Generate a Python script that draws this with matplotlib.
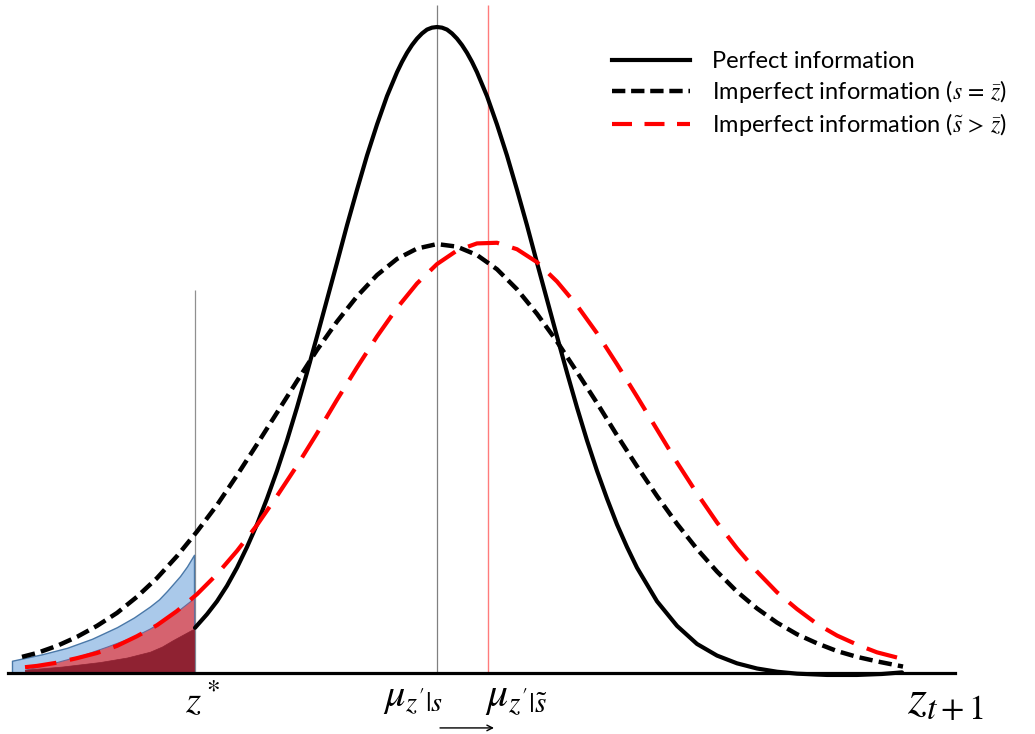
import matplotlib
matplotlib.use("Agg")
import matplotlib.pyplot as plt
from matplotlib.lines import Line2D

plt.rcParams['font.family'] = ['Lato', 'DejaVu Sans']
plt.rcParams['mathtext.fontset'] = 'stix'

# ---------------- data (x relative to mu_{z'|s}, y relative to perfect-info peak)
perfect_x = [-2.42, -2.3, -2.2, -2.1, -2.0, -1.9, -1.8, -1.7, -1.6, -1.5, -1.4, -1.3, -1.2, -1.1,
             -1.0, -0.9, -0.8, -0.7, -0.6, -0.5, -0.4, -0.35, -0.3, -0.25, -0.2, -0.15, -0.1, -0.05, 0.0,
             0.05, 0.1, 0.15, 0.2, 0.25, 0.3, 0.35, 0.4, 0.5, 0.6, 0.7, 0.8, 0.9, 1.0, 1.1, 1.2, 1.3, 1.4, 1.5,
             1.6, 1.7, 1.8, 1.9, 2.0, 2.2, 2.4, 2.6, 2.8, 3.0, 3.2, 3.4, 3.6, 3.9, 4.2, 4.45, 4.65]
perfect_y = [0.070, 0.091, 0.111, 0.135, 0.163, 0.195, 0.230, 0.270, 0.313, 0.360, 0.411, 0.465, 0.521, 0.578,
             0.635, 0.693, 0.748, 0.801, 0.849, 0.893, 0.930, 0.946, 0.960, 0.972, 0.982, 0.990, 0.996, 0.999, 1.000,
             0.999, 0.996, 0.990, 0.982, 0.972, 0.960, 0.946, 0.930, 0.893, 0.849, 0.801, 0.748, 0.693, 0.635, 0.578, 0.521, 0.465, 0.411, 0.360,
             0.313, 0.270, 0.230, 0.195, 0.163, 0.111, 0.073, 0.045, 0.027, 0.015, 0.007, 0.002, -0.001, -0.003, -0.003, -0.0015, 0.001]

imperfect_x = [-4.15, -4.0, -3.8, -3.6, -3.4, -3.2, -3.0, -2.8, -2.6, -2.4, -2.2, -2.0, -1.8, -1.6, -1.4,
               -1.2, -1.0, -0.8, -0.6, -0.4, -0.2, 0.0, 0.2, 0.4, 0.6, 0.8, 1.0, 1.2, 1.4, 1.6, 1.8,
               2.0, 2.2, 2.4, 2.6, 2.8, 3.0, 3.2, 3.4, 3.6, 3.8, 4.0, 4.2, 4.4, 4.66]
imperfect_y = [0.025, 0.031, 0.042, 0.056, 0.073, 0.093, 0.118, 0.147, 0.181, 0.219, 0.260, 0.306, 0.354, 0.403, 0.452,
               0.500, 0.544, 0.583, 0.616, 0.641, 0.657, 0.664, 0.660, 0.647, 0.625, 0.594, 0.556, 0.513, 0.466, 0.418, 0.368,
               0.320, 0.274, 0.231, 0.192, 0.157, 0.126, 0.100, 0.078, 0.060, 0.046, 0.034, 0.025, 0.018, 0.010]

shifted_x = [-4.12, -4.0, -3.8, -3.6, -3.4, -3.2, -3.0, -2.8, -2.6, -2.4, -2.2, -2.0, -1.8, -1.6, -1.4,
             -1.2, -1.0, -0.8, -0.6, -0.4, -0.2, 0.0, 0.2, 0.4, 0.6, 0.8, 1.0, 1.2, 1.4, 1.6, 1.8,
             2.0, 2.2, 2.4, 2.6, 2.8, 3.0, 3.2, 3.4, 3.6, 3.8, 4.0, 4.2, 4.4, 4.7]
shifted_y = [0.009, 0.011, 0.016, 0.023, 0.031, 0.042, 0.057, 0.074, 0.096, 0.122, 0.153, 0.189, 0.229, 0.274, 0.321,
             0.371, 0.423, 0.473, 0.521, 0.565, 0.603, 0.633, 0.654, 0.665, 0.666, 0.656, 0.636, 0.606, 0.569, 0.526, 0.478,
             0.428, 0.377, 0.326, 0.278, 0.233, 0.193, 0.157, 0.125, 0.099, 0.076, 0.058, 0.044, 0.032, 0.020]

blue_tail_x = [-4.25, -4.04, -3.95, -3.70, -3.45, -3.20, -3.03, -2.87, -2.78, -2.70, -2.57, -2.50, -2.43]
blue_tail_y = [0.019, 0.026, 0.029, 0.039, 0.053, 0.071, 0.086, 0.103, 0.114, 0.127, 0.150, 0.165, 0.183]
red_tail_x = [-4.12, -3.85, -3.54, -3.30, -3.04, -2.87, -2.70, -2.57, -2.43]
red_tail_y = [0.005, 0.015, 0.028, 0.041, 0.056, 0.069, 0.085, 0.099, 0.116]
dark_tail_x = [-4.12, -3.75, -3.37, -3.10, -2.87, -2.75, -2.64, -2.45, -2.43]
dark_tail_y = [0.005, 0.010, 0.017, 0.024, 0.033, 0.041, 0.051, 0.067, 0.068]

z_star = -2.42
mu_s = 0.0
mu_s_tilde = 0.51

legend_labels = ["Perfect information",
                 r"Imperfect information ($s\,=\,\bar{z}$)",
                 r"Imperfect information ($\tilde{s}\,>\,\bar{z}$)"]

# ---------------- figure
W, H = 1035, 734
fig = plt.figure(figsize=(W / 100, H / 100), dpi=100)
ax = fig.add_axes([8 / W, 0, 947 / W, 1])
ax.set_xlim(-4.29, 5.18)
ax.set_ylim(-0.0944, 1.0418)
for s in ['top', 'left', 'right']:
    ax.spines[s].set_visible(False)
ax.spines['bottom'].set_position(('data', 0))
ax.spines['bottom'].set_linewidth(2.3)
ax.spines['bottom'].set_zorder(3)
ax.set_xticks([])
ax.set_yticks([])

# shaded tails
ax.fill_between(blue_tail_x, blue_tail_y, 0, facecolor='#aac9ea', edgecolor='#4a78a8', linewidth=1.0, zorder=2)
ax.fill_between(red_tail_x, red_tail_y, 0, facecolor='#d5636f', edgecolor='#6a6a9a', linewidth=0.8, zorder=2.1)
ax.fill_between(dark_tail_x, dark_tail_y, 0, facecolor='#8f2232', edgecolor='#8f2232', linewidth=0.5, zorder=2.2)

# vertical reference lines
ax.vlines(mu_s, 0, 1.034, color='#808080', linewidth=0.9, zorder=1)
ax.vlines(mu_s_tilde, 0, 1.034, color='#ff7b7b', linewidth=1.0, zorder=1)
ax.vlines(z_star, 0, 0.593, color='#909090', linewidth=0.9, zorder=1)

# curves
ax.plot(perfect_x, perfect_y, color='black', linewidth=3.0, solid_capstyle='round',
        solid_joinstyle='round', zorder=4)
ax.plot(imperfect_x, imperfect_y, color='black', linewidth=3.2, dashes=(3.0, 1.4), zorder=4)
ax.plot(shifted_x, shifted_y, color='#ff0000', linewidth=3.0, dashes=(7.6, 3.3), zorder=4)

# axis labels under the baseline
ax.text(z_star - 0.10, -0.062, r"$z^*$", fontsize=28, ha='left', va='baseline')
ax.text(mu_s - 0.54, -0.053, r"$\mu_{z'|s}$", fontsize=29, ha='left', va='baseline')
ax.text(mu_s_tilde - 0.03, -0.053, r"$\mu_{z'|\tilde{s}}$", fontsize=30, ha='left', va='baseline')
ax.text(4.70, -0.062, r"$z_{t+1}$", fontsize=35, ha='left', va='baseline')
ax.annotate('', xy=(mu_s_tilde + 0.06, -0.085), xytext=(mu_s + 0.03, -0.085),
            arrowprops=dict(arrowstyle='->', lw=1.0, color='black', shrinkA=0, shrinkB=0),
            annotation_clip=False)

# legend
handles = [Line2D([], [], color='black', linewidth=3.0),
           Line2D([], [], color='black', linewidth=3.2, dashes=(3.0, 1.3)),
           Line2D([], [], color='#ff0000', linewidth=3.0, dashes=(4.8, 3.0))]
fig.legend(handles, legend_labels, loc='upper left', bbox_to_anchor=(612 / W, 1 - 51 / H),
           frameon=False, fontsize=17, handlelength=3.3, handletextpad=0.93,
           borderpad=0, borderaxespad=0, labelspacing=0.25)

fig.savefig('out.png', dpi=100)
